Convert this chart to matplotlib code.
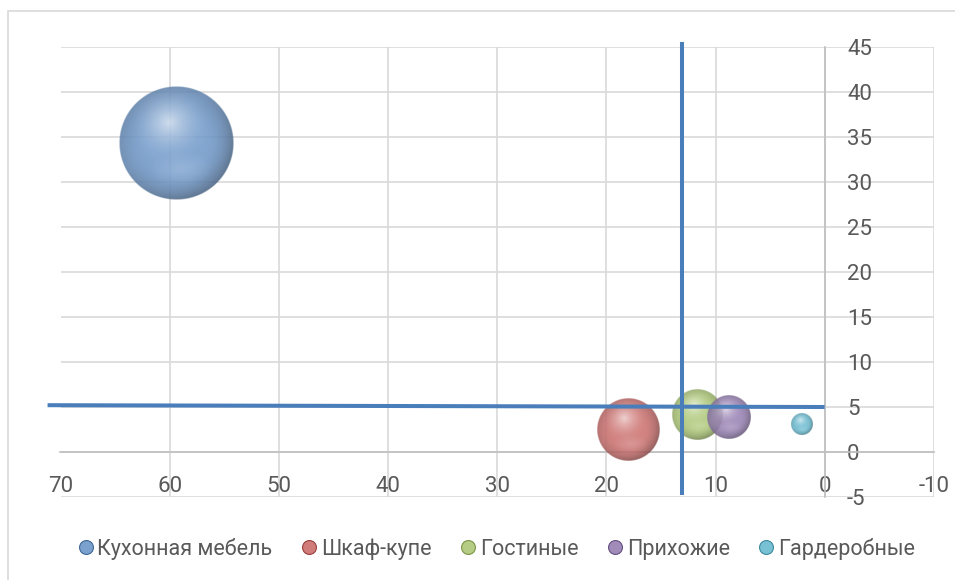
import numpy as np
import matplotlib
matplotlib.use("Agg")
import matplotlib.pyplot as plt
from matplotlib.colors import to_rgb
from matplotlib.lines import Line2D
from matplotlib.patches import Rectangle

plt.rcParams['font.family'] = ['Roboto', 'DejaVu Sans']
plt.rcParams['axes.unicode_minus'] = False

# сегменты рынка мебели
names = ['Кухонная мебель', 'Шкаф-купе', 'Гостиные', 'Прихожие', 'Гардеробные']
share = [59.4, 18.0, 11.7, 8.8, 2.1]      # доля рынка, %
growth = [34.3, 2.5, 4.1, 3.9, 3.1]       # темп роста, %
bubble = [59.4, 18.0, 11.7, 8.8, 2.1]     # размер пузырька
colors = ['#4f81bd', '#c0504d', '#9bbb59', '#8064a2', '#4bacc6']

xticks = [70, 60, 50, 40, 30, 20, 10, 0, -10]
yticks = [-5, 0, 5, 10, 15, 20, 25, 30, 35, 40, 45]

# разделительные линии матрицы
vline_x = [13.1, 13.1]
vline_y = [45.3, -4.6]
hline_x = [71.0, 0.2]
hline_y = [5.2, 5.0]

txt = '#595959'
grid = '#d9d9d9'


def sphere(color, n=240):
    base = np.array(to_rgb(color))
    base = base + (1 - base) * 0.2
    light = base + (1 - base) * 0.62
    dark = base * 0.64
    t = np.linspace(-1, 1, n)
    u, v = np.meshgrid(t, t)
    r = np.hypot(u, v)
    w = np.clip(1 - np.hypot(u + 0.13, v - 0.36) / 0.75, 0, 1) ** 1.8
    rgb = base * (1 - w[..., None]) + light * w[..., None]
    rim = np.clip((r - 0.45) / 0.55, 0, 1) ** 2 * (0.45 + 0.55 * np.clip((u - v + 0.4) / 1.6, 0, 1))
    rgb = rgb * (1 - rim[..., None]) + dark * rim[..., None]
    b = np.clip(1 - np.hypot(u - 0.08, (v + 0.45) * 1.8) / 0.55, 0, 1)
    rgb = rgb * (1 - 0.25 * b[..., None]) + light * 0.25 * b[..., None]
    alpha = np.clip((1 - r) * n / 2.5, 0, 1) * 0.88
    return np.dstack([np.clip(rgb, 0, 1), alpha])


fig = plt.figure(figsize=(9.55, 5.8), dpi=100)
ax = fig.add_axes([60.5 / 955, 1 - 497 / 580, 873.5 / 955, 450 / 580])
ax.set_xlim(70, -10)
ax.set_ylim(-5, 45)
ax.set_autoscale_on(False)

ax.set_xticks(xticks)
ax.set_yticks(yticks)
ax.grid(True, color=grid, lw=1.2)
ax.set_axisbelow(True)

for s in ['left', 'top']:
    ax.spines[s].set_visible(False)
ax.spines['bottom'].set_position(('data', 0))
ax.spines['right'].set_position(('data', 0))
for s in ['bottom', 'right']:
    ax.spines[s].set_color('#bfbfbf')
    ax.spines[s].set_linewidth(1.2)
ax.yaxis.tick_right()
ax.tick_params(axis='x', length=0, pad=17, labelsize=16, labelcolor=txt)
ax.tick_params(axis='y', length=0, pad=16, labelsize=16, labelcolor=txt)

# пузырьки: площадь пропорциональна размеру
px_x = ax.bbox.width / 80
px_y = ax.bbox.height / 50
bmax = max(bubble)
for x, y, b, c in zip(share, growth, bubble, colors):
    r = 57 * np.sqrt(b / bmax)
    rx, ry = r / px_x, r / px_y
    ax.imshow(sphere(c), extent=(x + rx, x - rx, y - ry, y + ry),
              origin='lower', aspect='auto', interpolation='bilinear', zorder=3)

ax.plot(vline_x, vline_y, color='#4a7ebb', lw=2.9, zorder=4, clip_on=False)
ax.plot(hline_x, hline_y, color='#4a7ebb', lw=2.9, zorder=4, clip_on=False)

handles = []
for c in colors:
    base = np.array(to_rgb(c))
    handles.append(Line2D([], [], ls='none', marker='o', markersize=10,
                          markerfacecolor=base + (1 - base) * 0.25,
                          markeredgecolor=base * 0.8, markeredgewidth=0.8))
fig.legend(handles, names, loc='center', bbox_to_anchor=(495 / 955, 1 - 549 / 580),
           ncol=5, frameon=False, fontsize=15.5, labelcolor=txt,
           handletextpad=0.05, columnspacing=1.2, handlelength=1.0)

fig.patches.append(Rectangle((8 / 955, -0.1), 1.1, 1 - 11 / 580 + 0.1,
                             transform=fig.transFigure, fill=False,
                             edgecolor=grid, lw=1.2))

fig.savefig('out.png', dpi=100)
